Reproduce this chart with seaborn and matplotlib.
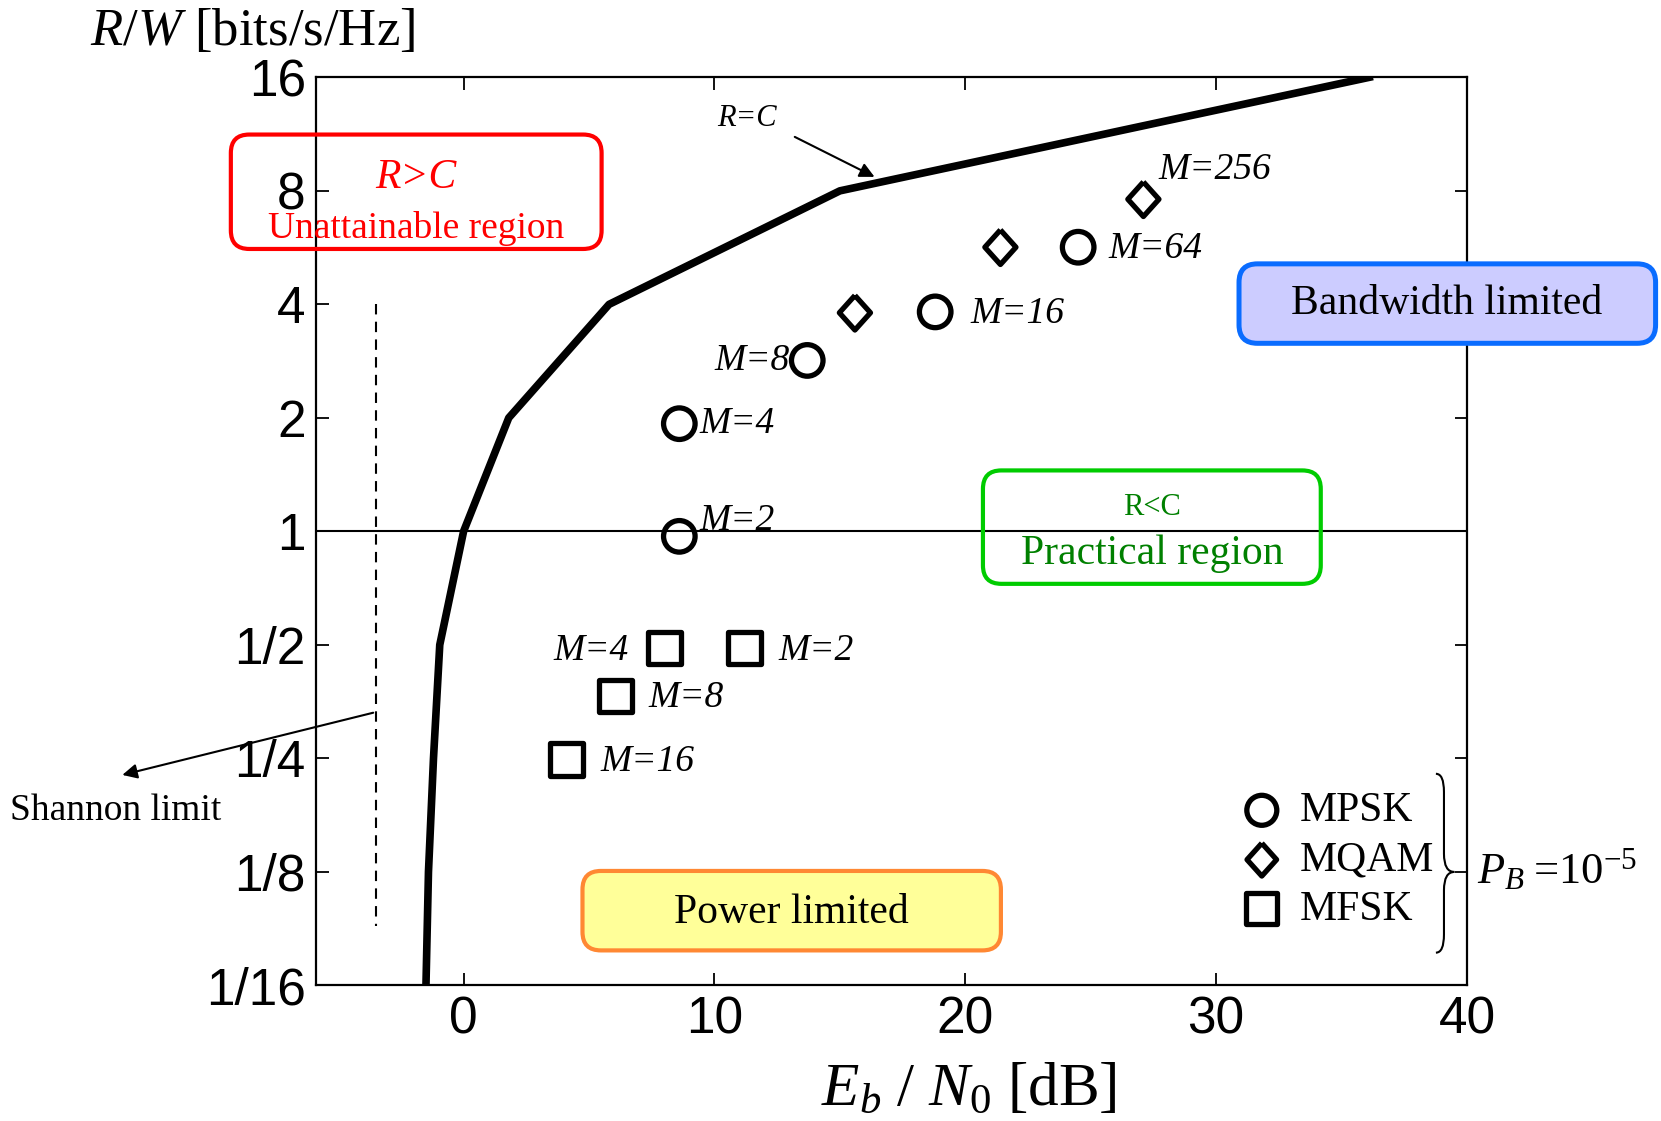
import numpy as np
import pandas as pd
import matplotlib.pyplot as plt
import seaborn as sb
from matplotlib.patches import FancyBboxPatch, PathPatch
from matplotlib.path import Path
from matplotlib.ticker import NullLocator

# R=C capacity boundary
cap_rate = [1/16, 1/8, 1/4, 1/2, 1, 2, 4, 8, 16]
cap_ebn0 = [-1.5, -1.4, -1.2, -0.95, 0.0, 1.8, 5.8, 15.0, 36.1]

# MPSK
mpsk_lab = ['M=2', 'M=4', 'M=8', 'M=16', 'M=64']
mpsk_ebn0 = [8.6, 8.6, 13.7, 18.8, 24.5]
mpsk_rate = [0.97, 1.93, 2.84, 3.82, 5.67]

# MQAM
mqam_lab = ['', '', 'M=256']
mqam_ebn0 = [15.6, 21.4, 27.1]
mqam_rate = [3.8, 5.67, 7.6]

# MFSK
mfsk_lab = ['M=2', 'M=4', 'M=8', 'M=16']
mfsk_ebn0 = [11.2, 8.0, 6.05, 4.1]
mfsk_rate = [0.49, 0.49, 0.366, 0.248]

# dashed "Shannon limit" line
limit_x = [-3.5, -3.5]
limit_y = [4.0, 0.09]

xtick_vals = [0, 10, 20, 30, 40]
ytick_vals = [1/16, 1/8, 1/4, 1/2, 1, 2, 4, 8, 16]
ytick_labels = ['1/16', '1/8', '1/4', '1/2', '1', '2', '4', '8', '16']

plt.rcParams['font.family'] = ['Liberation Sans', 'DejaVu Sans']
plt.rcParams['mathtext.fontset'] = 'custom'
plt.rcParams['mathtext.rm'] = 'Liberation Serif'
plt.rcParams['mathtext.it'] = 'Liberation Serif:italic'
plt.rcParams['mathtext.bf'] = 'Liberation Serif:bold'
serif = 'Liberation Serif'

fig = plt.figure(figsize=(16.61, 11.21), dpi=100)
ax = fig.add_axes([0.190, 0.121, 0.6932, 0.810])

# capacity curve
sb.lineplot(x=cap_ebn0, y=cap_rate, color='black', lw=5.5, sort=False, ax=ax, zorder=4)
ax.axhline(1, color='black', lw=1.5, zorder=2)
ax.plot(limit_x, limit_y, color='black', lw=1.5, dashes=(5, 3.5))

# modulation points
diamond = [(0, 1), (0.9, 0), (0, -1), (-0.9, 0), (0, 1)]
sb.scatterplot(x=mpsk_ebn0, y=mpsk_rate, marker='o', s=516, facecolor='none',
               edgecolor='black', linewidth=3.8, label='MPSK', ax=ax, zorder=5)
sb.scatterplot(x=mqam_ebn0, y=mqam_rate, marker=diamond, s=620, facecolor='none',
               edgecolor='black', linewidth=3.8, label='MQAM', ax=ax, zorder=5)
sb.scatterplot(x=mfsk_ebn0, y=mfsk_rate, marker='s', s=552, facecolor='none',
               edgecolor='black', linewidth=3.8, label='MFSK', ax=ax, zorder=5)

# point labels, offsets in pixels
mpsk_off = [(20, 16, 'left'), (20, 0, 'left'), (-18, 0, 'right'), (35, -2, 'left'), (30, -2, 'left')]
mqam_off = [(0, 0, 'left'), (0, 0, 'left'), (15, 29, 'left')]
mfsk_off = [(34, -3, 'left'), (-36, -3, 'right'), (33, -2, 'left'), (34, -2, 'left')]
for labs, xs, ys, offs in [(mpsk_lab, mpsk_ebn0, mpsk_rate, mpsk_off),
                           (mqam_lab, mqam_ebn0, mqam_rate, mqam_off),
                           (mfsk_lab, mfsk_ebn0, mfsk_rate, mfsk_off)]:
    for lab, x, y, (dx, dy, ha) in zip(labs, xs, ys, offs):
        if lab:
            ax.annotate(lab, (x, y), xytext=(dx, dy), textcoords='offset pixels',
                        ha=ha, va='center', family=serif, style='italic', fontsize=27)

# axes
ax.set_xlim(-5.9, 40)
ax.set_yscale('log', base=2)
ax.set_ylim(1/16, 16)
ax.set_xticks(xtick_vals)
ax.set_yticks(ytick_vals, ytick_labels)
ax.yaxis.set_minor_locator(NullLocator())
ax.xaxis.set_minor_locator(NullLocator())
ax.tick_params(direction='in', length=9, width=1.3, top=True, right=True,
               labelsize=37, pad=7)
for sp in ax.spines.values():
    sp.set_linewidth(1.6)

ax.set_ylabel(r'$R/W$ [bits/s/Hz]', family=serif, fontsize=38, rotation=0,
              ha='left', va='center')
ax.yaxis.set_label_coords(-0.196, 1.05)
ax.set_xlabel(r'$E_b\ /\ N_0$ [dB]', family=serif, fontsize=44, va='center')
ax.xaxis.set_label_coords(0.5676, -0.115)

# region boxes
def region_box(x0, y0, x1, y1, ec, fc, lw=3.0, z=6):
    box = FancyBboxPatch((x0, y0), x1 - x0, y1 - y0,
                         boxstyle='round,pad=0,rounding_size=0.016', mutation_aspect=1.27,
                         transform=ax.transAxes, clip_on=False, ec=ec, fc=fc, lw=lw, zorder=z)
    ax.add_patch(box)

region_box(-0.0736, 0.811, 0.2484, 0.937, '#ff0000', 'none')
ax.text(0.0874, 0.889, 'R>C', transform=ax.transAxes, color='#ff0000', family=serif,
        style='italic', fontsize=30, ha='center', va='center', zorder=7)
ax.text(0.0874, 0.833, 'Unattainable region', transform=ax.transAxes, color='#ff0000',
        family=serif, fontsize=27, ha='center', va='center', zorder=7)

region_box(0.802, 0.7071, 1.1638, 0.7946, '#0a6cff', '#ccccff', lw=3.6)
ax.text(0.9825, 0.7503, 'Bandwidth limited', transform=ax.transAxes, family=serif,
        fontsize=30, ha='center', va='center', zorder=7)

region_box(0.5796, 0.4422, 0.8730, 0.5671, '#00cc00', 'none')
ax.text(0.7268, 0.5263, 'R<C', transform=ax.transAxes, color='#008000', family=serif,
        fontsize=22, ha='center', va='center', zorder=7)
ax.text(0.7268, 0.4749, 'Practical region', transform=ax.transAxes, color='#008000',
        family=serif, fontsize=30, ha='center', va='center', zorder=7)

region_box(0.2318, 0.0385, 0.5952, 0.126, '#ff8833', '#ffff99')
ax.text(0.4131, 0.0805, 'Power limited', transform=ax.transAxes, family=serif,
        fontsize=30, ha='center', va='center', zorder=7)

# R=C and Shannon limit annotations
ax.text(0.3744, 0.9545, 'R=C', transform=ax.transAxes, family=serif, style='italic',
        fontsize=22, ha='center', va='center')
ax.annotate('', xy=(0.4876, 0.889), xytext=(0.414, 0.9358), xycoords='axes fraction',
            textcoords='axes fraction',
            arrowprops=dict(arrowstyle='-|>', color='black', lw=1.5, mutation_scale=22))
ax.annotate('', xy=(-0.1702, 0.231), xytext=(0.0524, 0.301), xycoords='axes fraction',
            textcoords='axes fraction', annotation_clip=False,
            arrowprops=dict(arrowstyle='-|>', color='black', lw=1.5, mutation_scale=22))
ax.text(-0.265, 0.1925, 'Shannon limit', transform=ax.transAxes, family=serif,
        fontsize=27, ha='left', va='center', clip_on=False)

# legend with brace and P_B
ax.legend(loc='center left', bbox_to_anchor=(0.8037, 0.1377), frameon=False,
          prop={'family': serif, 'size': 30}, borderpad=0, borderaxespad=0,
          handlelength=1.0, handletextpad=0.4, labelspacing=0.26, markerscale=0.95)

x0, xm, x1 = 0.973, 0.980, 0.989
yt, ymid, yb = 0.233, 0.1249, 0.036
verts = [(x0, yt), (xm, yt), (xm, yt - 0.02), (xm, ymid + 0.02), (xm, ymid), (x1, ymid),
         (xm, ymid), (xm, ymid - 0.02), (xm, yb + 0.02), (xm, yb), (x0, yb)]
codes = [Path.MOVETO, Path.CURVE3, Path.CURVE3, Path.LINETO, Path.CURVE3, Path.CURVE3,
         Path.CURVE3, Path.CURVE3, Path.LINETO, Path.CURVE3, Path.CURVE3]
ax.add_patch(PathPatch(Path(verts, codes), fc='none', ec='black', lw=1.5,
                       transform=ax.transAxes, clip_on=False))
ax.text(1.009, 0.128, r'$P_B\;$=10$^{-5}$', transform=ax.transAxes, family=serif,
        fontsize=32, ha='left', va='center', clip_on=False)

fig.savefig('out.png', dpi=100)
